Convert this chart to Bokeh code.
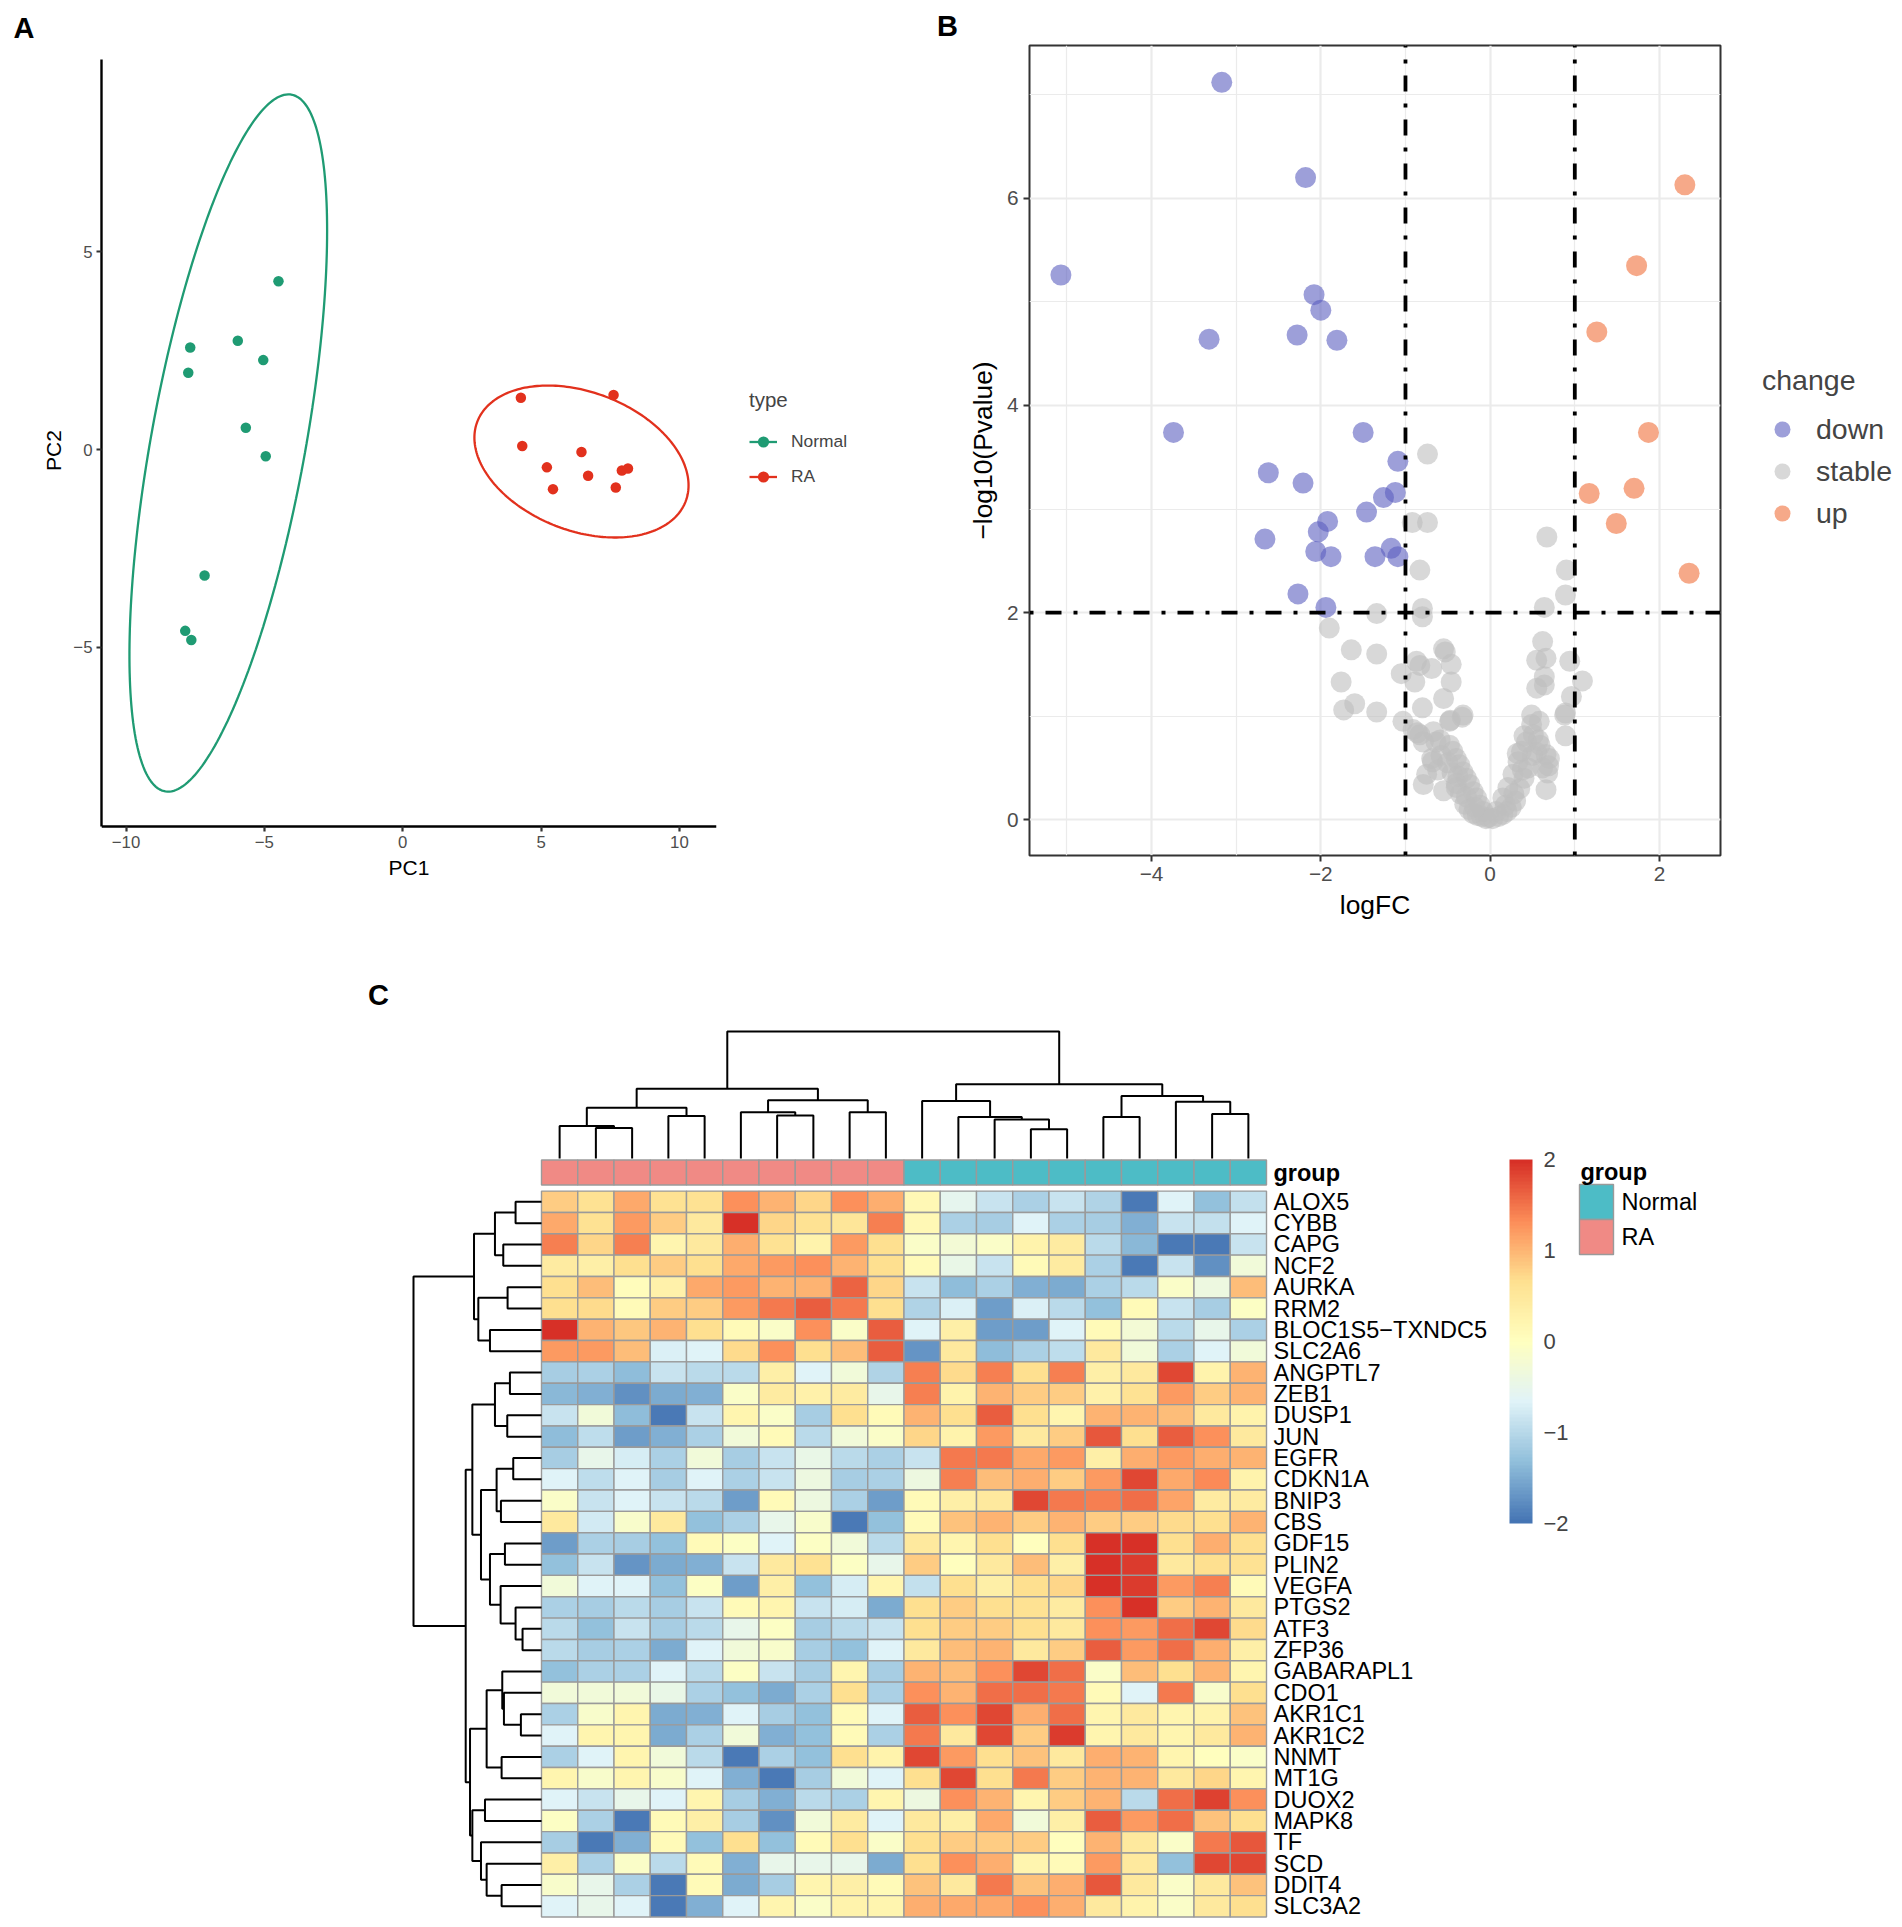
import numpy as np
from bokeh.plotting import figure
from bokeh.layouts import row, column
from bokeh.models import (Range1d, FixedTicker, Legend, LegendItem, ColorBar,
                          LinearColorMapper, ColumnDataSource, LinearAxis)
from bokeh.embed import file_html
from bokeh.resources import INLINE
from bokeh.core.properties import value

FONT = "Liberation Sans"
MINUS = "\u2212"

# ---------------- Panel A: PCA ----------------
normal_pc1 = [-4.49, -5.96, -7.68, -5.04, -7.75, -5.67, -4.95, -7.16, -7.86, -7.64]
normal_pc2 = [4.25, 2.75, 2.58, 2.26, 1.94, 0.55, -0.17, -3.18, -4.58, -4.81]
ra_pc1 = [4.27, 7.62, 4.32, 6.46, 5.21, 6.70, 7.92, 8.14, 5.43, 7.70]
ra_pc2 = [1.31, 1.38, 0.09, -0.06, -0.45, -0.66, -0.53, -0.48, -1.00, -0.96]
ellipse_level_f = 4.2565      # qf(0.95, 2, n - 1) for n = 10 (stat_ellipse, type "t")
pca_xticks = [-10, -5, 0, 5, 10]
pca_yticks = [-5, 0, 5]

# ---------------- Panel B: volcano ----------------
down_logfc = [-3.17, -2.18, -5.07, -2.08, -2.00, -3.32, -2.28, -1.81, -3.74, -1.50, -1.09, -2.62, -2.21,
              -1.12, -1.26, -1.46, -1.92, -2.03, -2.66, -2.06, -1.88, -1.36, -1.17, -1.09, -2.27, -1.94]
down_logp = [7.12, 6.20, 5.26, 5.07, 4.92, 4.64, 4.68, 4.63, 3.74, 3.74, 3.46, 3.35, 3.25,
             3.16, 3.11, 2.97, 2.88, 2.78, 2.71, 2.59, 2.54, 2.54, 2.62, 2.54, 2.18, 2.05]
up_logfc = [2.30, 1.73, 1.26, 1.87, 1.70, 1.17, 1.49, 2.35]
up_logp = [6.13, 5.35, 4.71, 3.74, 3.20, 3.15, 2.86, 2.38]
stable_logfc = [-0.74, -0.92, -0.74, 0.67, -0.83, 0.90, 0.89, 0.64, -0.80, -0.80, -1.34, -1.90, -1.64, -1.34,
                -0.55, -0.53, 0.62, -0.87, -0.83, -0.69, -0.46, 0.55, 0.66, 0.94, -1.05, -0.89, -0.46, 0.64,
                0.64, -1.76, 1.09, 0.55, -0.55, 0.96, -1.60, -1.73, -1.34, -0.80, -0.32, -0.48, -1.03, 0.49,
                0.89, -0.91, -0.83, 0.49, 0.58, 0.89, -0.67, -0.59, -0.48, -0.44, -0.40, -0.36, -0.32, -0.28,
                -0.24, -0.20, -0.16, -0.12, -0.08, -0.02, 0.07, 0.15, 0.21, 0.27, 0.33, 0.37, 0.43, 0.51,
                0.59, 0.66, 0.70, 0.66, -0.75, -0.79, -0.69, -0.55, -0.40, -0.62, -0.30, -0.25, -0.20, -0.15,
                -0.10, 0.10, 0.15, 0.20, 0.25, 0.30, -0.35, 0.35, -0.40, 0.40, -0.45, 0.45, -0.50, 0.50,
                -0.05, 0.03, -0.28, 0.28, -0.18, 0.18, -0.38, 0.38, 0.55, -0.58, 0.62, 0.68, -0.86, -0.64,
                -0.79, -0.68, 0.57, 0.32, 0.69, 0.40, -0.33, -0.47, 0.88]
stable_logp = [3.53, 2.87, 2.87, 2.73, 2.41, 2.41, 2.17, 2.05, 2.04, 1.96, 1.99, 1.85, 1.64, 1.60,
               1.65, 1.62, 1.72, 1.53, 1.49, 1.46, 1.50, 1.54, 1.56, 1.53, 1.41, 1.33, 1.33, 1.38,
               1.30, 1.33, 1.34, 1.27, 1.17, 1.19, 1.12, 1.06, 1.04, 1.08, 1.01, 0.95, 0.95, 1.01,
               1.03, 0.87, 0.82, 0.92, 0.95, 0.81, 0.85, 0.77, 0.72, 0.66, 0.59, 0.53, 0.46, 0.40,
               0.34, 0.27, 0.21, 0.14, 0.08, 0.02, 0.08, 0.21, 0.31, 0.44, 0.56, 0.66, 0.75, 0.82,
               0.72, 0.63, 0.59, 0.29, 0.44, 0.34, 0.59, 0.28, 0.31, 0.48, 0.15, 0.10, 0.06, 0.04,
               0.03, 0.03, 0.05, 0.08, 0.12, 0.18, 0.25, 0.30, 0.35, 0.40, 0.45, 0.50, 0.55, 0.62,
               0.01, 0.01, 0.22, 0.25, 0.12, 0.14, 0.42, 0.48, 0.65, 0.62, 0.50, 0.45, 0.84, 0.75,
               0.75, 0.56, 0.77, 0.64, 0.52, 0.81, 0.99, 0.96, 1.01]
logfc_cut = [-1, 1]
logp_cut = 2
volc_xticks = [-4, -2, 0, 2]
volc_xminor = [-5, -3, -1, 1]
volc_yticks = [0, 2, 4, 6]
volc_yminor = [1, 3, 5, 7]

# ---------------- Panel C: heatmap ----------------
samples_group = ["RA"] * 10 + ["Normal"] * 10
genes = ["ALOX5", "CYBB", "CAPG", "NCF2", "AURKA", "RRM2", "BLOC1S5" + MINUS + "TXNDC5", "SLC2A6",
         "ANGPTL7", "ZEB1", "DUSP1", "JUN", "EGFR", "CDKN1A", "BNIP3", "CBS", "GDF15", "PLIN2",
         "VEGFA", "PTGS2", "ATF3", "ZFP36", "GABARAPL1", "CDO1", "AKR1C1", "AKR1C2", "NNMT", "MT1G",
         "DUOX2", "MAPK8", "TF", "SCD", "DDIT4", "SLC3A2"]
expr = [
    [0.8, 0.6, 1.1, 0.6, 0.6, 1.3, 1.0, 0.75, 1.3, 1.05, 0.15, -0.55, -0.85, -1.1, -0.85, -1.05, -1.95, -0.65, -1.3, -0.9],
    [1.1, 0.6, 1.2, 0.8, 0.45, 2.0, 0.75, 0.6, 0.55, 1.4, 0.15, -1.1, -1.15, -0.65, -1.1, -1.15, -1.45, -0.85, -0.9, -0.65],
    [1.4, 0.75, 1.4, 0.2, 0.45, 1.05, 0.6, 0.25, 1.2, 0.65, -0.1, -0.25, -0.1, 0.25, 0.4, -1.0, -1.4, -1.95, -1.95, -0.85],
    [0.4, 0.35, 0.65, 0.8, 0.65, 1.1, 1.2, 1.3, 1.0, 0.65, 0.1, -0.45, -0.85, 0.1, 0.4, -1.1, -1.95, -0.85, -1.75, -0.3],
    [0.65, 0.95, 0.05, 0.3, 1.1, 1.2, 1.0, 1.0, 1.6, 0.75, -0.85, -1.35, -1.1, -1.45, -1.5, -1.1, -1.0, -0.1, -0.4, 0.95],
    [0.65, 0.7, 0.1, 0.8, 0.8, 1.2, 1.45, 1.65, 1.45, 0.65, -1.05, -0.7, -1.6, -0.7, -1.0, -1.3, 0.1, -0.85, -1.15, -0.05],
    [2.0, 1.0, 0.85, 1.0, 0.65, 0.1, -0.1, 1.3, -0.1, 1.65, -0.65, 0.35, -1.6, -1.6, -0.65, 0.1, -0.25, -1.0, -0.5, -1.1],
    [1.2, 1.2, 0.95, -0.7, -0.65, 0.7, 1.3, 0.65, 0.95, 1.65, -1.7, 0.45, -1.35, -1.1, -0.95, 0.45, -0.3, -1.1, -0.65, -0.3],
    [-1.15, -1.1, -1.35, -0.85, -1.0, -1.0, 0.35, -0.65, -0.3, -1.05, 1.4, 0.7, 1.4, 0.65, 1.4, 0.35, 0.45, 1.8, 0.25, 1.0],
    [-1.4, -1.45, -1.75, -1.5, -1.45, -0.1, 0.4, 0.3, 0.4, -0.5, 1.4, 0.25, 1.0, 0.8, 0.8, 0.3, 0.6, 1.2, 0.8, 1.0],
    [-0.85, -0.3, -1.35, -1.95, -0.85, 0.2, -0.1, -1.15, 0.65, 0.1, 1.0, 0.65, 1.65, 0.65, 0.2, 1.0, 1.0, 0.95, 0.45, 0.25],
    [-1.35, -0.95, -1.6, -1.45, -1.1, -0.3, 0.1, -1.0, -0.3, -0.1, 0.75, 0.25, 1.2, 0.45, 0.8, 1.7, 0.65, 1.65, 1.3, 0.45],
    [-1.15, -0.5, -0.75, -1.1, -0.3, -1.15, -0.85, -0.45, -1.0, -1.1, -0.85, 1.45, 1.45, 1.1, 1.2, 0.35, 1.05, 1.2, 1.05, 1.0],
    [-0.65, -0.95, -0.65, -1.15, -0.65, -1.1, -0.85, -0.4, -1.15, -1.1, -0.4, 1.4, 0.95, 1.05, 0.8, 1.2, 1.8, 1.1, 1.35, 0.25],
    [-0.1, -0.85, -0.65, -0.85, -1.0, -1.6, 0.1, -0.4, -1.1, -1.6, 0.1, 0.35, 0.45, 1.8, 1.45, 1.4, 1.55, 1.15, 0.4, 0.4],
    [0.45, -0.8, -0.15, 0.45, -1.3, -1.1, -0.5, -0.15, -1.95, -1.3, 0.1, 0.9, 1.0, 0.8, 1.0, 0.8, 0.8, 0.7, 0.65, 1.0],
    [-1.6, -1.1, -1.15, -1.3, 0.1, -0.05, -0.65, -0.05, -0.3, -1.0, 0.45, 0.2, 0.65, 0.0, 0.65, 2.0, 2.0, 0.65, 1.05, 0.65],
    [-1.3, -0.85, -1.7, -1.5, -1.45, -0.85, 0.45, 0.6, -0.05, -0.5, 0.8, 0.0, 0.45, 0.95, 0.35, 2.0, 1.9, 0.45, 0.65, 0.6],
    [-0.3, -0.65, -0.65, -1.3, -0.05, -1.6, 0.35, -1.3, -0.75, 0.2, -0.9, 0.65, 0.35, 0.65, 0.75, 2.0, 1.9, 1.2, 1.4, 0.1],
    [-1.1, -1.15, -1.0, -1.15, -0.85, 0.1, 0.2, -0.85, -0.75, -1.5, 0.65, 0.8, 0.65, 0.6, 0.4, 1.3, 2.0, 0.8, 1.0, 0.45],
    [-1.0, -1.3, -0.85, -1.15, -1.0, -0.5, -0.05, -1.15, -1.0, -0.85, 0.65, 0.8, 0.8, 0.65, 0.45, 1.3, 1.2, 1.55, 1.8, 0.7],
    [-1.0, -1.15, -1.1, -1.5, -0.65, -0.3, -0.15, -1.15, -1.3, -0.65, 0.45, 0.95, 1.0, 0.45, 0.8, 1.65, 1.2, 1.55, 1.05, 0.35],
    [-1.3, -1.1, -1.1, -0.65, -1.0, -0.05, -0.85, -1.15, 0.2, -1.15, 1.0, 0.95, 1.3, 1.8, 1.55, -0.1, 0.95, 0.65, 1.0, 0.2],
    [-0.3, -0.3, -0.3, -0.45, -1.1, -1.3, -1.5, -1.1, 0.65, -1.1, 1.3, 1.0, 1.55, 1.55, 1.45, 0.1, -0.65, 1.45, -0.15, 0.65],
    [-1.1, -0.15, 0.2, -1.5, -1.45, -0.65, -1.15, -1.3, 0.1, -0.65, 1.65, 1.3, 1.8, 1.05, 1.55, 0.2, 0.45, 0.2, 0.25, 0.9],
    [-0.65, 0.2, 0.2, -1.5, -1.1, -0.3, -1.45, -1.3, 0.1, -1.1, 1.45, 0.45, 1.8, 0.8, 1.9, 0.2, 0.45, 0.2, 0.45, 1.0],
    [-1.1, -0.65, 0.2, -0.3, -1.0, -1.95, -1.1, -1.3, 0.65, 0.25, 1.8, 1.2, 0.65, 0.9, 0.45, 1.05, 1.0, 0.2, 0.0, -0.1],
    [0.2, -0.15, 0.2, -0.15, -0.65, -1.45, -1.95, -1.15, -0.3, -0.65, 0.65, 1.8, 0.65, 1.45, 0.8, 1.0, 1.0, 0.45, 0.75, 0.2],
    [-0.65, -0.85, -0.5, -0.65, 0.2, -1.15, -1.45, -1.0, -1.1, 0.2, -0.4, 1.3, 1.0, 0.2, 0.8, 1.0, -1.0, 1.55, 1.85, 1.3],
    [-0.05, -1.1, -1.95, 0.1, 0.35, -1.15, -1.75, -0.3, 0.4, -0.65, 0.45, 0.35, 1.1, -0.3, 0.35, 1.65, 1.2, 1.55, 0.9, 0.65],
    [-1.15, -1.95, -1.45, 0.1, -1.3, 0.65, -1.3, 0.1, 0.65, -0.1, 0.65, 0.8, 0.8, 0.8, 0.0, 1.0, 0.45, -0.1, 1.45, 1.7],
    [0.35, -1.1, -0.1, -1.0, 0.1, -1.45, -0.5, -0.5, -0.5, -1.5, 0.65, 1.3, 1.05, 0.2, 0.1, 1.2, 0.45, -1.3, 1.8, 1.8],
    [-0.15, -0.5, -1.1, -1.95, 0.1, -1.5, -1.15, 0.2, 0.35, 0.1, 0.9, 0.45, 1.45, 0.9, 1.05, 1.7, 0.45, -0.1, 0.45, 0.9],
    [-0.65, -0.5, -0.65, -1.95, -1.45, -0.65, 0.2, -0.1, 0.25, 0.2, 1.05, 1.1, 1.1, 1.3, 1.05, 0.45, 0.25, -0.1, 0.45, 0.65],
]
# hierarchical clustering merges: (child a, child b, height); ids >= n are earlier merges
col_merges = [(1, 2, 92), (0, 20, 98), (3, 4, 128), (21, 22, 153), (6, 7, 129), (5, 24, 139),
              (8, 9, 139), (25, 26, 175), (23, 27, 210), (13, 14, 88), (12, 29, 117), (11, 30, 125),
              (10, 31, 173), (15, 16, 125), (18, 19, 134), (17, 34, 171), (33, 35, 188), (32, 36, 223),
              (28, 37, 382)]
row_merges = [(0, 1, 78), (2, 3, 115), (34, 35, 140), (4, 5, 102), (6, 7, 155), (37, 38, 190),
              (36, 39, 203), (8, 9, 95), (10, 11, 103), (41, 42, 140), (12, 13, 85), (14, 15, 122),
              (44, 45, 135), (16, 17, 110), (20, 21, 57), (19, 48, 78), (18, 49, 123), (47, 50, 155),
              (46, 51, 182), (43, 52, 208), (24, 25, 62), (23, 54, 113), (22, 55, 118), (26, 27, 120),
              (56, 57, 165), (28, 29, 170), (32, 33, 120), (31, 60, 165), (30, 61, 182), (59, 62, 208),
              (58, 63, 215), (53, 64, 228), (40, 65, 385)]
legend_ticks = [-2, -1, 0, 1, 2]

# ---------------- colours ----------------
GREEN = "#1F9B73"
RED = "#E2311D"
DOWN_C = "#5B5FBF"
STABLE_C = "#BEBEBE"
UP_C = "#F0703A"
GROUP_COL = {"RA": "#F08A85", "Normal": "#4DBCC6"}
anchors = ["#4575B4", "#91BFDB", "#E0F3F8", "#FFFFBF", "#FEE090", "#FC8D59", "#D73027"]


def hex2rgb(h):
    return [int(h[i:i + 2], 16) for i in (1, 3, 5)]


_A = np.array([hex2rgb(c) for c in anchors], float)
_pos = np.linspace(0, 1, len(anchors))
palette = ["#%02x%02x%02x" % tuple(int(round(np.interp(t, _pos, _A[:, k]))) for k in range(3))
           for t in np.linspace(0, 1, 100)]


def minus_overrides(ticks):
    return {t: (MINUS + str(abs(t)) if t < 0 else str(t)) for t in ticks}


def cov_trob(x, nu=5, maxit=25, tol=0.01):
    """Robust multivariate-t covariance (as MASS::cov.trob, used by stat_ellipse)."""
    n, p = x.shape
    wt = np.ones(n)
    loc = (wt[:, None] * x).sum(0) / wt.sum()
    w = np.sqrt(wt)
    X = x - loc
    for _ in range(maxit):
        w0 = w
        X = x - loc
        S = (X * (w / w.sum())[:, None]).T @ X
        Q = np.einsum("ij,jk,ik->i", X, np.linalg.inv(S), X)
        w = wt * (nu + p) / (nu + Q)
        loc = (w[:, None] * x).sum(0) / w.sum()
        if np.all(np.abs(w - w0) < tol):
            break
    cov = (np.sqrt(w)[:, None] * X).T @ (np.sqrt(w)[:, None] * X) / wt.sum()
    return cov, loc


def ellipse(xs, ys, n=240):
    pts = np.column_stack([xs, ys]).astype(float)
    shape, center = cov_trob(pts)
    radius = np.sqrt(2 * ellipse_level_f)
    t = np.linspace(0, 2 * np.pi, n)
    circ = np.column_stack([np.cos(t), np.sin(t)])
    e = center + radius * (circ @ np.linalg.cholesky(shape).T)
    return e[:, 0], e[:, 1]


def style_axis(ax, tick_size, title_size, tick_color, line_color, tick_len, line_w):
    ax.major_label_text_font = FONT
    ax.major_label_text_font_size = tick_size
    ax.major_label_text_color = tick_color
    ax.axis_label_text_font = FONT
    ax.axis_label_text_font_size = title_size
    ax.axis_label_text_font_style = "normal"
    ax.axis_label_text_color = "black"
    ax.major_tick_line_color = line_color
    ax.major_tick_line_width = line_w
    ax.major_tick_out = int(tick_len)
    ax.major_tick_in = 0
    ax.minor_tick_line_color = None


def blank(width, height, xr, yr):
    f = figure(width=width, height=height, output_backend="svg", toolbar_location=None,
               x_range=xr, y_range=yr, x_axis_type=None, y_axis_type=None,
               min_border=0, min_border_left=0, min_border_right=0, min_border_top=0, min_border_bottom=0)
    f.grid.visible = False
    f.outline_line_color = None
    return f


TOP = 43        # height of the strip holding the panel letters
ROW_H = 970 - TOP
F_TOP, F_BOT = 45, 855      # shared plot-frame rows of the top panels (image px)
A_TOP, A_BOT = 59, 826      # extent of the PCA panel inside that frame

# ======================= panel letters strip =======================
pS = blank(1902, TOP, Range1d(0, 1902), Range1d(TOP, 0))
pS.text([23.5, 947], [27, 25], text=["A", "B"], text_font=value(FONT), text_font_size=value("29px"),
        text_font_style="bold", text_align="center", text_baseline="middle")

# ======================= Panel A =======================
enx, eny = ellipse(normal_pc1, normal_pc2)
erx, ery = ellipse(ra_pc1, ra_pc2)
allx = np.concatenate([enx, erx, normal_pc1, ra_pc1])
ally = np.concatenate([eny, ery, normal_pc2, ra_pc2])
dx = (allx.max() - allx.min()) * 0.05
dy = (ally.max() - ally.min()) * 0.05
ymin_d, ymax_d = ally.min() - dy, ally.max() + dy
sA = (A_BOT - A_TOP) / (ymax_d - ymin_d)

pA = figure(width=730, height=ROW_H, output_backend="svg", toolbar_location=None,
            x_range=Range1d(allx.min() - dx, allx.max() + dx),
            y_range=Range1d(ymin_d - (F_BOT - A_BOT) / sA, ymax_d + (A_TOP - F_TOP) / sA),
            x_axis_location=None,
            min_border_left=101, min_border_right=14, min_border_top=F_TOP - TOP,
            min_border_bottom=970 - F_BOT)
pA.grid.visible = False
pA.outline_line_color = None

# axis title "PC1" sits just under the shared frame; the tick axis is fixed at the panel bottom
ax_title = LinearAxis(ticker=FixedTicker(ticks=[]), axis_label="PC1")
style_axis(ax_title, "16.8px", "21px", "#4D4D4D", None, 0, 1)
ax_title.axis_line_color = None
ax_title.axis_label_standoff = 0
ax_title.major_label_standoff = 0
pA.add_layout(ax_title, "below")

ax_x = LinearAxis(ticker=FixedTicker(ticks=pca_xticks), fixed_location=ymin_d)
ax_x.major_label_overrides = minus_overrides(pca_xticks)
style_axis(ax_x, "16.8px", "21px", "#4D4D4D", "#333333", 5, 2.2)
ax_x.axis_line_color = "black"
ax_x.axis_line_width = 2.4
ax_x.major_label_standoff = 4
pA.add_layout(ax_x, "below")

pA.yaxis.ticker = FixedTicker(ticks=pca_yticks)
pA.yaxis.major_label_overrides = minus_overrides(pca_yticks)
pA.yaxis.axis_label = "PC2"
pA.yaxis.bounds = (ymin_d, ymax_d)
style_axis(pA.yaxis[0], "16.8px", "21px", "#4D4D4D", "#333333", 5, 2.2)
pA.yaxis.axis_line_color = "black"
pA.yaxis.axis_line_width = 2.4
pA.yaxis.major_label_standoff = 4
pA.yaxis.axis_label_standoff = 5

pA.line(enx, eny, line_color=GREEN, line_width=2.3)
pA.line(erx, ery, line_color=RED, line_width=2.3)
pA.scatter(normal_pc1, normal_pc2, size=10.5, fill_color=GREEN, line_color=None)
pA.scatter(ra_pc1, ra_pc2, size=10.5, fill_color=RED, line_color=None)

# legend "type" (keys are drawn from off-screen copies of the marks' styles)
pLA = blank(195, ROW_H, Range1d(0, 1), Range1d(0, 1))
kl_n = pLA.line([-5, -4], [-5, -5], line_color=GREEN, line_width=2.3)
ks_n = pLA.scatter([-5], [-5], size=10.5, fill_color=GREEN, line_color=None)
kl_r = pLA.line([-5, -4], [-5, -5], line_color=RED, line_width=2.3)
ks_r = pLA.scatter([-5], [-5], size=10.5, fill_color=RED, line_color=None)
legA = Legend(items=[LegendItem(label="Normal", renderers=[kl_n, ks_n]),
                     LegendItem(label="RA", renderers=[kl_r, ks_r])],
              title="type", location=(19, F_BOT - 494), orientation="vertical")
legA.title_text_font = FONT
legA.title_text_font_size = "20.5px"
legA.title_text_font_style = "normal"
legA.title_standoff = 12
legA.label_text_font = FONT
legA.label_text_font_size = "17.4px"
legA.border_line_color = None
legA.background_fill_alpha = 0
legA.padding = 0
legA.margin = 0
legA.spacing = 0
legA.glyph_width = 28
legA.glyph_height = 35
legA.label_height = 35
legA.label_standoff = 14
pLA.add_layout(legA)

# ======================= Panel B =======================
allvx = down_logfc + up_logfc + stable_logfc
allvy = down_logp + up_logp + stable_logp
vdx = (max(allvx) - min(allvx)) * 0.05
vdy = (max(allvy) - min(allvy)) * 0.05
vx0, vx1 = min(allvx) - vdx, max(allvx) + vdx
pB = figure(width=815, height=ROW_H, output_backend="svg", toolbar_location=None,
            x_range=Range1d(vx0, vx1),
            y_range=Range1d(min(allvy) - vdy, max(allvy) + vdy),
            min_border_left=104, min_border_right=20, min_border_top=F_TOP - TOP,
            min_border_bottom=970 - F_BOT)
pB.outline_line_color = "#333333"
pB.outline_line_width = 2
pB.xaxis.ticker = FixedTicker(ticks=volc_xticks, minor_ticks=volc_xminor)
pB.yaxis.ticker = FixedTicker(ticks=volc_yticks, minor_ticks=volc_yminor)
pB.xaxis.major_label_overrides = minus_overrides(volc_xticks)
pB.xaxis.axis_label = "logFC"
pB.xaxis.bounds = (vx0 + 0.4, vx1)   # title sits slightly right of centre, as in the original
pB.yaxis.axis_label = MINUS + "log10(Pvalue)"
for ax in (pB.xaxis[0], pB.yaxis[0]):
    style_axis(ax, "20.8px", "26.4px", "#4D4D4D", "#333333", 6, 2)
    ax.axis_line_color = None
    ax.major_label_standoff = 5
    ax.axis_label_standoff = 6
for g in (pB.xgrid[0], pB.ygrid[0]):
    g.grid_line_color = "#EBEBEB"
    g.grid_line_width = 2.2
    g.minor_grid_line_color = "#EBEBEB"
    g.minor_grid_line_width = 1.2
pB.xgrid.bounds = (vx0, vx1)

pB.scatter(down_logfc, down_logp, size=21, fill_color=DOWN_C, fill_alpha=0.6, line_color=None)
pB.scatter(stable_logfc, stable_logp, size=21, fill_color=STABLE_C, fill_alpha=0.6, line_color=None)
pB.scatter(up_logfc, up_logp, size=21, fill_color=UP_C, fill_alpha=0.6, line_color=None)
for xc in logfc_cut:
    pB.line([xc, xc], [pB.y_range.start, pB.y_range.end], line_color="black", line_width=3.8,
            line_dash="4 12 16 12")
pB.line([vx0, vx1], [logp_cut, logp_cut], line_color="black",
        line_width=3.8, line_dash="4 12 16 12")

pLB = blank(162, ROW_H, Range1d(0, 1), Range1d(0, 1))
kd = pLB.scatter([-5], [-5], size=21, fill_color=DOWN_C, fill_alpha=0.6, line_color=None)
ks = pLB.scatter([-5], [-5], size=21, fill_color=STABLE_C, fill_alpha=0.6, line_color=None)
ku = pLB.scatter([-5], [-5], size=21, fill_color=UP_C, fill_alpha=0.6, line_color=None)
legB = Legend(items=[LegendItem(label="down", renderers=[kd]),
                     LegendItem(label="stable", renderers=[ks]),
                     LegendItem(label="up", renderers=[ku])],
              title="change", location=(22, F_BOT - 534), orientation="vertical")
legB.title_text_font = FONT
legB.title_text_font_size = "28.5px"
legB.title_text_font_style = "normal"
legB.title_standoff = 11
legB.label_text_font = FONT
legB.label_text_font_size = "28.5px"
legB.border_line_color = None
legB.background_fill_alpha = 0
legB.padding = 0
legB.margin = 0
legB.spacing = 0
legB.glyph_width = 40
legB.glyph_height = 42
legB.label_height = 42
legB.label_standoff = 14
pLB.add_layout(legB)

# ======================= Panel C =======================
CW, RH = 36.25, 21.35          # cell size in px
HX0, HY0 = 541.0, 1190.6       # image position of heatmap top-left
PX0, PX1, PY0, PY1 = 0, 1902, 970, 1927  # image extent of this figure
n_rows, n_cols = len(genes), len(samples_group)

pC = blank(PX1 - PX0, PY1 - PY0, Range1d((PX0 - HX0) / CW, (PX1 - HX0) / CW),
           Range1d((PY1 - HY0) / RH, (PY0 - HY0) / RH))

mapper = LinearColorMapper(palette=palette, low=-2, high=2)
cx, cy, cv = [], [], []
for i, rowv in enumerate(expr):
    for j, v in enumerate(rowv):
        cx.append(j + 0.5)
        cy.append(i + 0.5)
        cv.append(v)
src = ColumnDataSource(dict(x=cx, y=cy, v=cv))
pC.rect("x", "y", width=1, height=1, source=src,
        fill_color={"field": "v", "transform": mapper}, line_color="#9A9A9A", line_width=1.4)

# annotation bar
ann_y0, ann_y1 = (1159.5 - HY0) / RH, (1184.5 - HY0) / RH
pC.rect([j + 0.5 for j in range(n_cols)], [(ann_y0 + ann_y1) / 2] * n_cols, width=1, height=ann_y1 - ann_y0,
        fill_color=[GROUP_COL[g] for g in samples_group], line_color="#9A9A9A", line_width=1.4)


def dendro(merges, n):
    pos = {i: i + 0.5 for i in range(n)}
    hgt = {i: 0.0 for i in range(n)}
    segs = []
    for k, (a, b, h) in enumerate(merges):
        segs.append(([pos[a], pos[a], pos[b], pos[b]], [hgt[a], h, h, hgt[b]]))
        pos[n + k] = (pos[a] + pos[b]) / 2.0
        hgt[n + k] = h
    return segs


col_base = (1158 - HY0) / RH
col_top = (1031 - HY0) / RH
csc = (col_base - col_top) / max(m[2] for m in col_merges)
cseg = dendro(col_merges, n_cols)
pC.multi_line([s[0] for s in cseg], [[col_base - h * csc for h in s[1]] for s in cseg],
              line_color="black", line_width=2)

row_root = (413 - HX0) / CW
rsc = -row_root / max(m[2] for m in row_merges)
rseg = dendro(row_merges, n_rows)
pC.multi_line([[-h * rsc for h in s[1]] for s in rseg], [s[0] for s in rseg],
              line_color="black", line_width=2)

# gene labels + group label
lab_x = (1273 - HX0) / CW
pC.text([lab_x] * n_rows, [i + 0.5 for i in range(n_rows)], text=genes, text_font=value(FONT),
        text_font_size=value("23.5px"), text_baseline="middle", text_align="left", text_color="black")
pC.text([lab_x], [(ann_y0 + ann_y1) / 2], text=["group"], text_font=value(FONT),
        text_font_size=value("23.5px"), text_font_style="bold", text_baseline="middle", text_align="left")

# group legend
gl_x0, gl_x1 = (1579 - HX0) / CW, (1613 - HX0) / CW
gl_y = [(1184 - HY0) / RH, (1219 - HY0) / RH, (1254 - HY0) / RH]
legend_groups = ["Normal", "RA"]
pC.rect([(gl_x0 + gl_x1) / 2] * 2, [(gl_y[0] + gl_y[1]) / 2, (gl_y[1] + gl_y[2]) / 2],
        width=gl_x1 - gl_x0, height=gl_y[1] - gl_y[0],
        fill_color=[GROUP_COL[g] for g in legend_groups], line_color="#9A9A9A", line_width=1.4)
pC.text([(1621 - HX0) / CW] * 2, [(gl_y[0] + gl_y[1]) / 2, (gl_y[1] + gl_y[2]) / 2], text=legend_groups,
        text_font=value(FONT), text_font_size=value("23.5px"), text_baseline="middle", text_align="left")
pC.text([(1580 - HX0) / CW], [(1171 - HY0) / RH], text=["group"], text_font=value(FONT),
        text_font_size=value("23.5px"), text_font_style="bold", text_baseline="middle", text_align="left")

# colour bar
cbar = ColorBar(color_mapper=mapper, location=(1509 - PX0, PY1 - 1523), orientation="vertical",
                width=23, height=364, padding=0,
                ticker=FixedTicker(ticks=legend_ticks),
                major_label_overrides=minus_overrides(legend_ticks),
                major_label_text_font=FONT, major_label_text_font_size="22px",
                major_tick_line_color=None, minor_tick_line_color=None, bar_line_color=None,
                label_standoff=11, background_fill_color=None, border_line_color=None)
pC.add_layout(cbar)

# panel letter C
pC.text([(378 - HX0) / CW], [(994 - HY0) / RH], text=["C"], text_font=value(FONT),
        text_font_size=value("29px"), text_font_style="bold", text_baseline="middle", text_align="center")

layout = column(pS, row(pA, pLA, pB, pLB), pC)
open("out.html", "w").write(file_html(layout, INLINE))
